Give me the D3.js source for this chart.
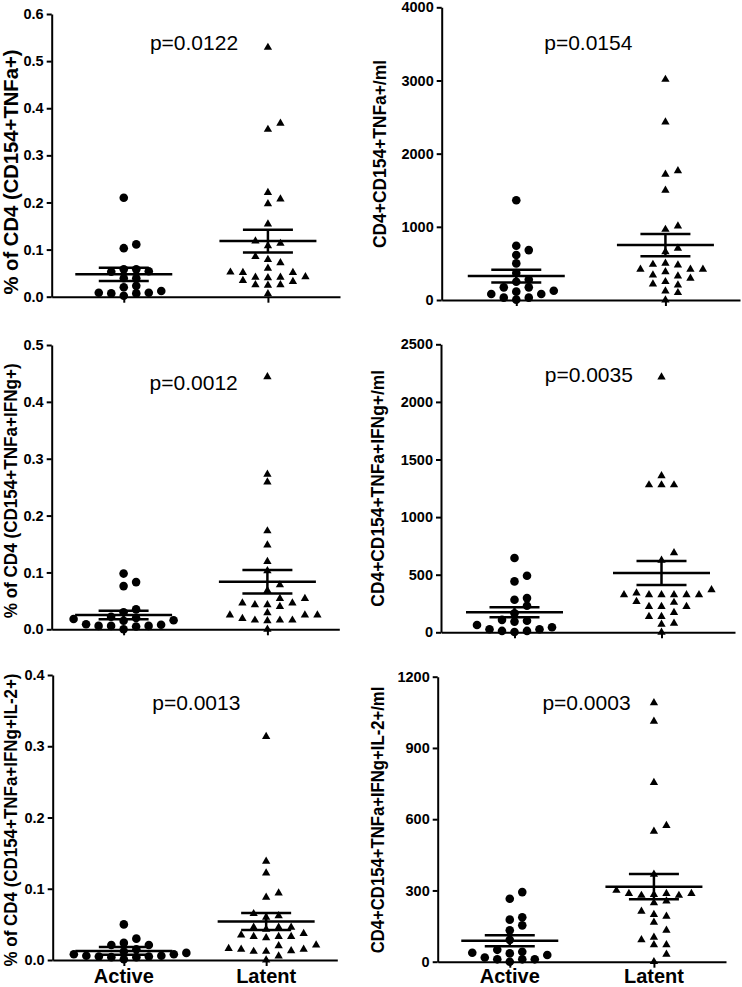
<!DOCTYPE html>
<html>
<head>
<meta charset="utf-8">
<script src="https://cdn.jsdelivr.net/npm/d3@7"></script>
<style>
  html, body { margin: 0; padding: 0; background: #fff; }
  svg { display: block; }
  text { font-family: "Liberation Sans", Arial, sans-serif; fill: #000; }
</style>
</head>
<body>
<div id="chart"></div>
<script>
// ---------- DATA ----------
const groups = ["Active", "Latent"];

const yLabels = [
  "% of CD4 (CD154+TNFa+)",
  "CD4+CD154+TNFa+/ml",
  "% of CD4 (CD154+TNFa+IFNg+)",
  "CD4+CD154+TNFa+IFNg+/ml",
  "% of CD4 (CD154+TNFa+IFNg+IL-2+)",
  "CD4+CD154+TNFa+IFNg+IL-2+/ml"
];
const pLabels = ["p=0.0122", "p=0.0154", "p=0.0012", "p=0.0035", "p=0.0013", "p=0.0003"];
const yMax  = [0.6, 4000, 0.5, 2500, 0.4, 1200];
const yStep = [0.1, 1000, 0.1, 500, 0.1, 300];
const yFormats = [".1f", "d", ".1f", "d", ".1f", "d"];

const activeA = [0.210, 0.111, 0.103, 0.058, 0.054, 0.053, 0.058, 0.039, 0.039, 0.020, 0.023, 0.0085, 0.007, 0.002, 0.007, 0.0085, 0.012];
const latentA = [0.529, 0.355, 0.368, 0.221, 0.207, 0.197, 0.154, 0.118, 0.113, 0.108, 0.085, 0.079, 0.072, 0.060, 0.051, 0.052, 0.051, 0.041, 0.040, 0.041, 0.042, 0.032, 0.034, 0.025, 0.024, 0.025, 0.006];

const activeB = [1364, 741, 682, 614, 500, 370, 280, 250, 173, 173, 127, 114, 82, 82, 32, 32, 5];
const latentB = [3014, 2432, 1718, 1764, 1500, 1009, 964, 705, 659, 500, 477, 418, 386, 418, 418, 486, 341, 295, 327, 218, 205, 250, 123, 100, 0];

const activeC = [0.098, 0.083, 0.076, 0.035, 0.030, 0.022, 0.020, 0.018, 0.016, 0.015, 0.009, 0.008, 0.006, 0.006, 0.006, 0.005, 0.0];
const latentC = [0.444, 0.2725, 0.259, 0.173, 0.148, 0.119, 0.103, 0.078, 0.068, 0.054, 0.054, 0.046, 0.046, 0.043, 0.040, 0.043, 0.029, 0.025, 0.025, 0.025, 0.016, 0.016, 0.015, 0.016, 0.019, 0.0];

const activeD = [645, 491, 442, 297, 282, 230, 166, 108, 100, 93, 64, 44, 26, 26, 12, 12, 2];
const latentD = [2215, 1358, 1279, 1279, 1279, 689, 625, 369, 326, 326, 326, 340, 326, 326, 326, 224, 224, 259, 267, 224, 137, 137, 172, 78, 70, 0];

const activeE = [0.050, 0.030, 0.024, 0.021, 0.021, 0.015, 0.012, 0.010, 0.008, 0.006, 0.008, 0.006, 0.005, 0.005, 0.004, 0.004, 0.001];
const latentE = [0.3136, 0.1385, 0.122, 0.094, 0.088, 0.065, 0.062, 0.060, 0.046, 0.046, 0.046, 0.043, 0.037, 0.035, 0.033, 0.033, 0.033, 0.031, 0.021, 0.020, 0.016, 0.015, 0.015, 0.013, 0.012, 0.012, 0.0056, 0];

const activeF = [293, 265, 187, 177, 153, 132, 92, 50, 42, 38, 35, 28, 18, 10, 10, 10, 0];
const latentF = [1090, 1012, 754, 573, 549, 368, 287, 283, 279, 300, 287, 279, 287, 248, 255, 198, 191, 212, 166, 132, 103, 71, 71, 92, 31, 0];

// mean and SEM
const meanActive = [0.0474, 327, 0.0251, 174, 0.0127, 88];
const semActive  = [0.014, 88, 0.0075, 43, 0.0055, 23];
const meanLatent = [0.118, 750, 0.0836, 514, 0.054, 316];
const semLatent  = [0.024, 152, 0.0205, 104, 0.012, 53];

const activeSets = [activeA, activeB, activeC, activeD, activeE, activeF];
const latentSets = [latentA, latentB, latentC, latentD, latentE, latentF];

// ---------- LAYOUT (pixels) ----------
const layout = [
  { x0: 51.7,  x1: 340,   yTop: 14,    y0: 296.7, pX: 194,   pY: 50,    lX: 18.3,  lY: 172,   lLen: 245, lSize: 20, xLabels: false },
  { x0: 441.7, x1: 740,   yTop: 7.3,   y0: 300,   pX: 588.3, pY: 50,    lX: 386,   lY: 154,   lLen: 188, lSize: 17.5, xLabels: false },
  { x0: 51.7,  x1: 339.3, yTop: 345,   y0: 629.3, pX: 193.7, pY: 390,   lX: 17.3,  lY: 490.8, lLen: 255, lSize: 17.5, xLabels: false },
  { x0: 441,   x1: 735,   yTop: 344.3, y0: 632.3, pX: 588.8, pY: 382.3, lX: 384.3, lY: 488.3, lLen: 236.7, lSize: 17.5, xLabels: false },
  { x0: 52.7,  x1: 337.3, yTop: 675,   y0: 960,   pX: 196.3, pY: 710,   lX: 17.3,  lY: 820,   lLen: 293, lSize: 17.5, xLabels: true },
  { x0: 437.7, x1: 726,   yTop: 676.7, y0: 961.7, pX: 586.5, pY: 710,   lX: 384.3, lY: 820,   lLen: 266.7, lSize: 17.5, xLabels: true }
];

const W = 742, H = 987;
const xLabelBaseline = 982.5;
const slotStep = 12.5;    // horizontal spacing of scatter slots
const rowThresh = 7.5;    // vertical overlap threshold
const meanHalf = 48.5, semHalf = 25;

const svg = d3.select("#chart").append("svg")
  .attr("width", W).attr("height", H)
  .attr("viewBox", `0 0 ${W} ${H}`);

function swarm(values, y, cx) {
  const pts = values.map(v => ({ v, y: y(v) })).sort((a, b) => b.y - a.y);
  const order = [0];
  for (let k = 1; k <= 8; k++) order.push(k, -k);
  const placed = [];
  for (const p of pts) {
    for (const s of order) {
      if (!placed.some(q => q.s === s && Math.abs(q.y - p.y) < rowThresh)) { p.s = s; break; }
    }
    placed.push(p);
  }
  return pts.map(p => ({ v: p.v, y: p.y, x: cx + p.s * slotStep }));
}

layout.forEach((L, i) => {
  const g = svg.append("g");
  const y = d3.scaleLinear().domain([0, yMax[i]]).range([L.y0, L.yTop]);
  const x = d3.scalePoint().domain(groups).range([L.x0, L.x1]).padding(0.5);
  const ticks = d3.range(0, yMax[i] + yStep[i] / 2, yStep[i]);

  // y axis
  const ya = g.append("g").attr("transform", `translate(${L.x0},0)`)
    .call(d3.axisLeft(y).tickValues(ticks).tickFormat(d3.format(yFormats[i]))
      .tickSize(5).tickPadding(3).tickSizeOuter(0));
  ya.select(".domain").attr("stroke", "#000").attr("stroke-width", 2);
  ya.selectAll(".tick line").attr("stroke", "#000").attr("stroke-width", 2);
  ya.selectAll(".tick text").attr("font-size", 14.5).attr("font-weight", "bold")
    .attr("fill", "#000").style("font-family", '"Liberation Sans", Arial, sans-serif');

  // x axis
  const xa = g.append("g").attr("transform", `translate(0,${L.y0})`)
    .call(d3.axisBottom(x).tickSize(6).tickSizeOuter(0).tickFormat(""));
  xa.select(".domain").attr("stroke", "#000").attr("stroke-width", 2);
  xa.selectAll(".tick line").attr("stroke", "#000").attr("stroke-width", 2);

  if (L.xLabels) {
    g.append("g").selectAll("text").data(groups).join("text")
      .attr("x", d => x(d)).attr("y", xLabelBaseline)
      .attr("text-anchor", "middle")
      .attr("font-size", 20).attr("font-weight", "bold")
      .text(d => d);
  }

  // y label
  g.append("text")
    .attr("transform", `translate(${L.lX},${L.lY}) rotate(-90)`)
    .attr("text-anchor", "middle")
    .attr("font-size", L.lSize).attr("font-weight", "bold")
    .attr("textLength", L.lLen).attr("lengthAdjust", "spacingAndGlyphs")
    .text(yLabels[i]);

  // p value
  g.append("text")
    .attr("x", L.pX).attr("y", L.pY)
    .attr("text-anchor", "middle")
    .attr("font-size", 21)
    .text(pLabels[i]);

  // points
  const act = swarm(activeSets[i], y, x("Active"));
  const lat = swarm(latentSets[i], y, x("Latent"));
  g.append("g").selectAll("circle").data(act).join("circle")
    .attr("cx", d => d.x).attr("cy", d => d.y).attr("r", 4.3).attr("fill", "#000");
  const tri = d3.symbol().type(d3.symbolTriangle).size(30);
  g.append("g").selectAll("path").data(lat).join("path")
    .attr("d", tri).attr("transform", d => `translate(${d.x},${d.y})`).attr("fill", "#000");

  // mean +/- SEM
  const stats = [
    { cx: x("Active"), m: meanActive[i], s: semActive[i] },
    { cx: x("Latent"), m: meanLatent[i], s: semLatent[i] }
  ];
  const sg = g.append("g").attr("stroke", "#000").attr("stroke-width", 2.5);
  stats.forEach(st => {
    sg.append("line").attr("x1", st.cx - meanHalf).attr("x2", st.cx + meanHalf)
      .attr("y1", y(st.m)).attr("y2", y(st.m));
    sg.append("line").attr("x1", st.cx - semHalf).attr("x2", st.cx + semHalf)
      .attr("y1", y(st.m + st.s)).attr("y2", y(st.m + st.s));
    sg.append("line").attr("x1", st.cx - semHalf).attr("x2", st.cx + semHalf)
      .attr("y1", y(st.m - st.s)).attr("y2", y(st.m - st.s));
    sg.append("line").attr("x1", st.cx).attr("x2", st.cx)
      .attr("y1", y(st.m - st.s)).attr("y2", y(st.m + st.s));
  });
});
</script>
</body>
</html>
